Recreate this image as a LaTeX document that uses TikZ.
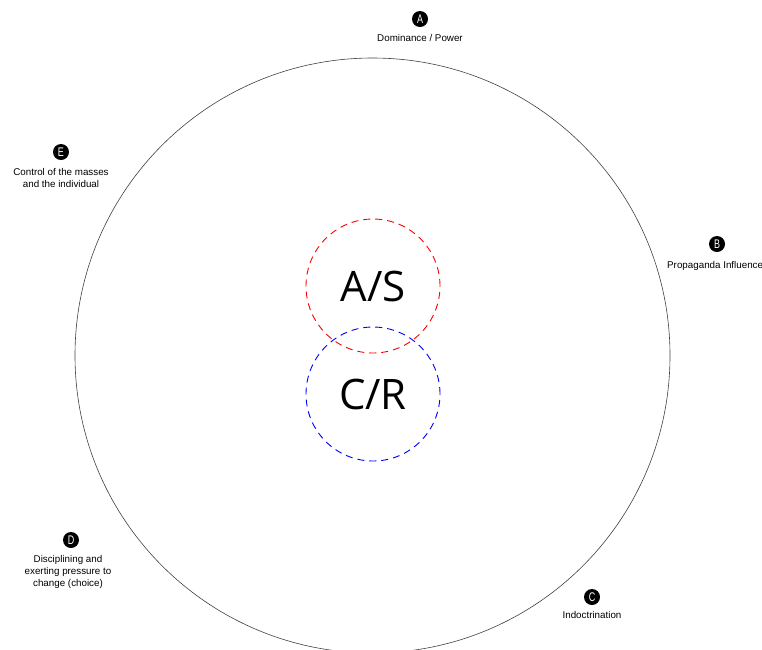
\documentclass[tikz,border=0pt]{standalone}
\usepackage{fontspec}
\setmainfont{Liberation Sans}
\newfontfamily\bigfont{Open Sans}
\begin{document}
\begin{tikzpicture}[x=1pt,y=-1pt,
  badge/.style={circle,fill=black,text=white,inner sep=0pt,minimum size=16pt,font=\fontsize{12.5}{12.5}\selectfont},
  caption/.style={align=center,font=\fontsize{9.8}{12}\selectfont,inner sep=0pt},
  inner/.style={draw,dashed,dash pattern=on 7pt off 5pt,line width=0.9pt,circle,minimum size=134pt,inner sep=0pt,font=\bigfont\fontsize{42}{42}\selectfont}]
\useasboundingbox (0,0) rectangle (762,649);
\begin{scope}
\clip (0,0) rectangle (762,649);
\node[draw=black!75,line width=0.6pt,circle,minimum size=595pt,inner sep=0pt] (outer) at (372.5,355.5) {};
\end{scope}
\node[inner,draw=red] (as) at (373,286) {A/S};
\node[inner,draw=blue] (cr) at (373,394) {C/R};
\node[badge] (a) at (420,19) {\scalebox{0.72}[1]{A}};
\node[caption] (la) at (420,38) {Dominance / Power};
\node[badge] (b) at (717,244) {\scalebox{0.72}[1]{B}};
\node[caption,anchor=west] (lb) at (667,266) {Propaganda Influence};
\node[badge] (c) at (592,597) {\scalebox{0.72}[1]{C}};
\node[caption] (lc) at (592,615) {Indoctrination};
\node[badge] (d) at (71,540) {\scalebox{0.72}[1]{D}};
\node[caption] (ld) at (68,572) {Disciplining and\\exerting pressure to\\change (choice)};
\node[badge] (e) at (61,152) {\scalebox{0.72}[1]{E}};
\node[caption] (le) at (61,178) {Control of the masses\\and the individual};
\end{tikzpicture}
\end{document}
